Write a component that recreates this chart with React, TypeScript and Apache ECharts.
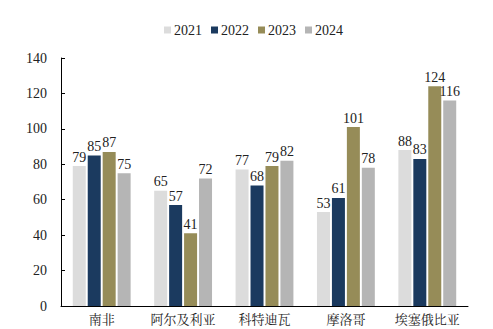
import React, { useEffect, useRef } from "react";
import * as echarts from "echarts";

const categories = ["南非", "阿尔及利亚", "科特迪瓦", "摩洛哥", "埃塞俄比亚"];
const years = ["2021", "2022", "2023", "2024"];
const v2021 = [79, 65, 77, 53, 88];
const v2022 = [85, 57, 68, 61, 83];
const v2023 = [87, 41, 79, 101, 124];
const v2024 = [75, 72, 82, 78, 116];
const colors = ["#dcdcdc", "#1b3a5f", "#968c58", "#b5b5b5"];

const FONT = "Liberation Serif";

export default function App() {
  const ref = useRef<HTMLDivElement>(null);
  useEffect(() => {
    const chart = echarts.init(ref.current!, undefined, { renderer: "svg" });
    const data = [v2021, v2022, v2023, v2024];
    chart.setOption({
      animation: false,
      textStyle: { fontFamily: FONT },
      legend: {
        top: 18,
        left: 159,
        itemWidth: 7,
        itemHeight: 7,
        itemGap: 9,
        icon: "rect",
        textStyle: { fontFamily: FONT, fontSize: 14, color: "#222", padding: [0, 0, 0, -2] },
        data: years,
      },
      grid: { left: 61, right: 25, top: 58, bottom: 23, containLabel: false },
      xAxis: {
        type: "category",
        data: categories,
        axisLine: { lineStyle: { color: "#000", width: 1 } },
        axisTick: { show: false },
        axisLabel: {
          interval: 0,
          fontFamily: "Noto Serif CJK SC, Noto Sans CJK SC",
          fontSize: 13,
          lineHeight: 13,
          color: "#222",
          margin: 6,
        },
      },
      yAxis: {
        type: "value",
        min: 0,
        max: 140,
        interval: 20,
        splitLine: { show: false },
        axisLine: { show: true, lineStyle: { color: "#000", width: 1 } },
        axisTick: { show: true, inside: true, length: 4, lineStyle: { color: "#000" } },
        axisLabel: { fontFamily: FONT, fontSize: 14, color: "#222", margin: 14 },
      },
      series: years.map((y, i) => ({
        name: y,
        type: "bar",
        data: data[i],
        barWidth: 13,
        barGap: "15%",
        itemStyle: { color: colors[i] },
        label: {
          show: true,
          position: "top",
          distance: 2,
          fontFamily: FONT,
          fontSize: 14,
          color: "#222",
        },
      })),
    });
    return () => chart.dispose();
  }, []);
  return <div ref={ref} style={{ width: 493, height: 329, position: "absolute", left: 0, top: 0 }} />;
}
